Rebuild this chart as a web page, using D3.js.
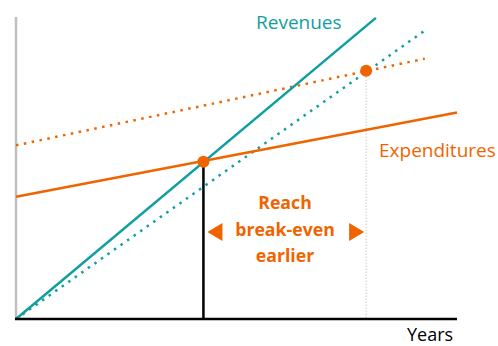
<!DOCTYPE html>
<html><head><meta charset="utf-8">
<script src="https://cdn.jsdelivr.net/npm/d3@7"></script>
<style>body{margin:0;background:#fff}svg{display:block}</style>
</head><body><svg id="c" width="498" height="346"></svg>
<script>
const revenueSolid = [[0,0],[8.16,9.97]];
const revenueDotted = [[0,0],[9.27,9.55]];
const expendSolid = [[0,4.05],[10,6.84]];
const expendDotted = [[0,5.75],[9.27,8.62]];
const breakEven = [[4.25,5.21],[7.94,8.22]];
const labels = ["Revenues","Expenditures","Years"];
const note = ["Reach","break-even","earlier"];

const teal="#0f9fa0", orange="#f06400";
const svg=d3.select("#c");
const x=d3.scaleLinear().domain([0,10]).range([16,457]);
const y=d3.scaleLinear().domain([0,10]).range([319,17]);
const line=d3.line().x(d=>x(d[0])).y(d=>y(d[1]));

svg.append("line").attr("x1",x(0)).attr("x2",x(0)).attr("y1",y(10)).attr("y2",y(0))
  .attr("stroke","#c0c0c0").attr("stroke-width",2.5);
svg.append("line").attr("x1",x(breakEven[1][0])).attr("x2",x(breakEven[1][0]))
  .attr("y1",y(breakEven[1][1])).attr("y2",y(0)).attr("stroke","#b0b0b0").attr("stroke-width",1).attr("stroke-dasharray","1 2");
svg.append("line").attr("x1",x(breakEven[0][0])).attr("x2",x(breakEven[0][0]))
  .attr("y1",y(breakEven[0][1])).attr("y2",y(0)).attr("stroke","#000").attr("stroke-width",2.5);

svg.append("path").attr("d",line(expendDotted)).attr("fill","none").attr("stroke",orange).attr("stroke-width",2.5).attr("stroke-dasharray","2.5 5.5");
svg.append("path").attr("d",line(revenueDotted)).attr("fill","none").attr("stroke",teal).attr("stroke-width",2.5).attr("stroke-dasharray","2.5 5.5");
svg.append("path").attr("d",line(expendSolid)).attr("fill","none").attr("stroke",orange).attr("stroke-width",2.5);
svg.append("path").attr("d",line(revenueSolid)).attr("fill","none").attr("stroke",teal).attr("stroke-width",2.5);

svg.append("line").attr("x1",x(0)-1).attr("x2",x(10)).attr("y1",y(0)).attr("y2",y(0))
  .attr("stroke","#000").attr("stroke-width",2.5);

svg.selectAll("circle.be").data(breakEven).join("circle").attr("class","be")
  .attr("cx",d=>x(d[0])).attr("cy",d=>y(d[1])).attr("r",6).attr("fill",orange);

const font="'Open Sans', 'Noto Sans', sans-serif";
svg.append("text").attr("x",256).attr("y",29).attr("fill",teal).attr("font-family",font).attr("font-size",19).text(labels[0]);
svg.append("text").attr("x",379).attr("y",157).attr("fill",orange).attr("font-family",font).attr("font-size",19).text(labels[1]);
svg.append("text").attr("x",407).attr("y",341).attr("fill","#000").attr("font-family",font).attr("font-size",18).text(labels[2]);

svg.append("text").attr("text-anchor","middle").attr("fill",orange).attr("font-family",font)
  .attr("font-size",17.7).attr("font-weight","bold")
  .selectAll("tspan").data(note).join("tspan").attr("x",285).attr("y",(d,i)=>209+i*26.5).text(d=>d);

const ty=232;
const xl=x(breakEven[0][0]), xr=x(breakEven[1][0]);
svg.append("path").attr("d",`M${xl+4},${ty} L${xl+19},${ty-9} L${xl+19},${ty+9} Z`).attr("fill",orange);
svg.append("path").attr("d",`M${xr-2},${ty} L${xr-17},${ty-9} L${xr-17},${ty+9} Z`).attr("fill",orange);
</script></body></html>
